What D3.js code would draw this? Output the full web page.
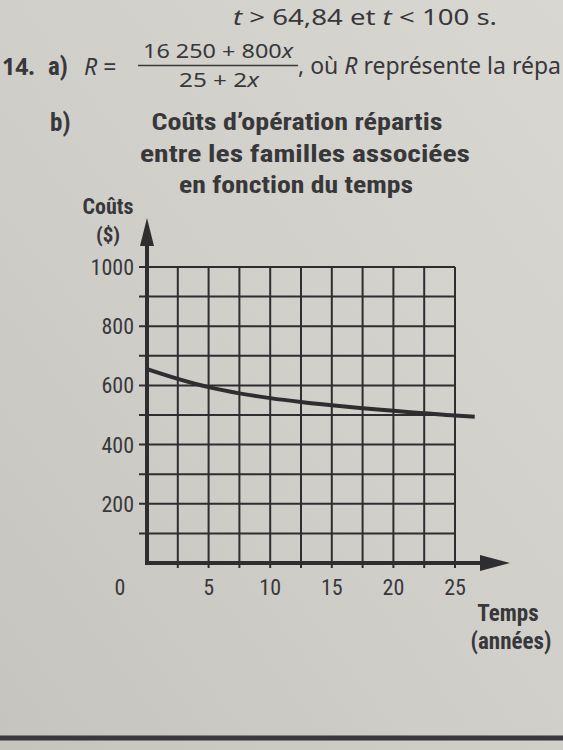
<!DOCTYPE html>
<html>
<head>
<meta charset="utf-8">
<script src="https://cdn.jsdelivr.net/npm/d3@7"></script>
<style>
  body { margin: 0; background: #d0cec8; }
  svg { display: block; }
</style>
</head>
<body>
<svg id="chart" width="563" height="750"></svg>
<script>
// data
var years = [0, 2.5, 5, 7.5, 10, 12.5, 15, 17.5, 20, 22.5, 25, 26.6];
var costs = [655, 622, 594, 573, 557, 544, 533, 523, 514, 506, 498, 494];
var xTickLabels = [0, 5, 10, 15, 20, 25];
var yTickLabels = [200, 400, 600, 800, 1000];
var titleLines = ["Coûts d’opération répartis", "entre les familles associées", "en fonction du temps"];
var titleWidths = [291, 330, 234];
var titleCenters = [297, 305, 296];

var ink = "#2e2e30",
    textInk = "#38383a",
    narrow = "'Roboto Condensed', 'Liberation Sans Narrow', 'Liberation Sans', sans-serif",
    book = "'Noto Sans', 'Open Sans', sans-serif";

var svg = d3.select("#chart");

// paper background
var defs = svg.append("defs");
var grad = defs.append("linearGradient").attr("id", "paper")
    .attr("x1", "100%").attr("y1", "0%").attr("x2", "0%").attr("y2", "100%");
grad.append("stop").attr("offset", "0%").style("stop-color", "#d9d7d2");
grad.append("stop").attr("offset", "55%").style("stop-color", "#d0cec8");
grad.append("stop").attr("offset", "100%").style("stop-color", "#c6c4be");
svg.append("rect").attr("width", 563).attr("height", 750).attr("fill", "url(#paper)");

// text of the page above the chart
svg.append("text").attr("x", 233).attr("y", 25)
    .attr("textLength", 264).attr("lengthAdjust", "spacingAndGlyphs")
    .attr("font-family", book).attr("font-size", 21).attr("fill", textInk)
    .html("<tspan font-style='italic'>t</tspan> &gt; 64,84 et <tspan font-style='italic'>t</tspan> &lt; 100 s.");

svg.append("text").attr("x", 2).attr("y", 75)
    .attr("font-family", book).attr("font-size", 23).attr("font-weight", "bold").attr("fill", textInk)
    .text("14.");
svg.append("text").attr("x", 48).attr("y", 75)
    .attr("font-family", narrow).attr("font-size", 25).attr("font-weight", "bold").attr("fill", textInk)
    .text("a)");
svg.append("text").attr("x", 84).attr("y", 75)
    .attr("font-family", book).attr("font-size", 23).attr("fill", textInk)
    .html("<tspan font-style='italic'>R</tspan> =");
svg.append("text").attr("x", 218).attr("y", 58).attr("text-anchor", "middle")
    .attr("textLength", 150).attr("lengthAdjust", "spacingAndGlyphs")
    .attr("font-family", book).attr("font-size", 20).attr("fill", textInk)
    .html("16 250 + 800<tspan font-style='italic'>x</tspan>");
svg.append("line").attr("x1", 138).attr("x2", 298).attr("y1", 65.5).attr("y2", 65.5)
    .attr("stroke", textInk).attr("stroke-width", 1.6);
svg.append("text").attr("x", 219).attr("y", 87).attr("text-anchor", "middle")
    .attr("textLength", 80).attr("lengthAdjust", "spacingAndGlyphs")
    .attr("font-family", book).attr("font-size", 20).attr("fill", textInk)
    .html("25 + 2<tspan font-style='italic'>x</tspan>");
svg.append("text").attr("x", 298).attr("y", 74)
    .attr("font-family", book).attr("font-size", 23).attr("fill", textInk)
    .html(", où <tspan font-style='italic'>R</tspan> représente la répa");

svg.append("text").attr("x", 50).attr("y", 131)
    .attr("font-family", narrow).attr("font-size", 25).attr("font-weight", "bold").attr("fill", textInk)
    .text("b)");

// chart title
svg.selectAll(".title")
    .data(titleLines)
    .enter()
    .append("text")
    .attr("class", "title")
    .attr("x", function(d, i) { return titleCenters[i]; })
    .attr("y", function(d, i) { return 130 + i * 31.5; })
    .attr("text-anchor", "middle")
    .attr("textLength", function(d, i) { return titleWidths[i]; })
    .attr("lengthAdjust", "spacingAndGlyphs")
    .attr("font-family", narrow).attr("font-size", 23).attr("font-weight", "bold")
    .attr("fill", textInk)
    .text(function(d) { return d; });

// scales
var x = d3.scaleLinear().domain([0, 25]).range([147, 455]);
var y = d3.scaleLinear().domain([0, 1000]).range([563, 267]);

// grid
var g = svg.append("g");
g.selectAll(".hgrid")
    .data(d3.range(100, 1001, 100))
    .enter()
    .append("line")
    .attr("x1", x(0) - 8).attr("x2", x(25))
    .attr("y1", function(d) { return y(d); }).attr("y2", function(d) { return y(d); })
    .attr("stroke", ink).attr("stroke-width", 2);
g.selectAll(".vgrid")
    .data(d3.range(2.5, 25.1, 2.5))
    .enter()
    .append("line")
    .attr("x1", function(d) { return x(d); }).attr("x2", function(d) { return x(d); })
    .attr("y1", y(1000)).attr("y2", y(0) + 5)
    .attr("stroke", ink).attr("stroke-width", 2);

// axes with arrows
g.append("line").attr("x1", x(0)).attr("x2", x(0)).attr("y1", y(0) + 2).attr("y2", 240)
    .attr("stroke", ink).attr("stroke-width", 4);
g.append("path").attr("d", d3.line()([[x(0) - 7, 246], [x(0), 218], [x(0) + 7, 246]]) + "Z")
    .attr("fill", ink);
g.append("line").attr("x1", x(0) - 2).attr("x2", 485).attr("y1", y(0)).attr("y2", y(0))
    .attr("stroke", ink).attr("stroke-width", 4);
g.append("path").attr("d", d3.line()([[480, y(0) - 8], [510, y(0)], [480, y(0) + 8]]) + "Z")
    .attr("fill", ink);

// tick labels
g.selectAll(".ylab")
    .data(yTickLabels)
    .enter()
    .append("text")
    .attr("x", 134)
    .attr("y", function(d) { return y(d) + 8; })
    .attr("text-anchor", "end")
    .attr("font-family", narrow).attr("font-size", 22).attr("fill", textInk)
    .text(function(d) { return d; });
g.selectAll(".xlab")
    .data(xTickLabels)
    .enter()
    .append("text")
    .attr("x", function(d) { return d === 0 ? x(0) - 27 : x(d); })
    .attr("y", 595)
    .attr("text-anchor", "middle")
    .attr("font-family", narrow).attr("font-size", 22).attr("fill", textInk)
    .text(function(d) { return d; });

// axis titles
g.append("text").attr("x", 108).attr("y", 214).attr("text-anchor", "middle")
    .attr("font-family", narrow).attr("font-size", 22).attr("font-weight", "bold").attr("fill", textInk)
    .text("Coûts");
g.append("text").attr("x", 108).attr("y", 242).attr("text-anchor", "middle")
    .attr("font-family", narrow).attr("font-size", 21).attr("font-weight", "bold").attr("fill", textInk)
    .text("($)");
g.append("text").attr("x", 508).attr("y", 621).attr("text-anchor", "middle")
    .attr("font-family", narrow).attr("font-size", 23).attr("font-weight", "bold").attr("fill", textInk)
    .text("Temps");
g.append("text").attr("x", 511).attr("y", 649).attr("text-anchor", "middle")
    .attr("font-family", narrow).attr("font-size", 23).attr("font-weight", "bold").attr("fill", textInk)
    .text("(années)");

// curve
var line = d3.line()
    .x(function(d) { return x(d[0]); })
    .y(function(d) { return y(d[1]); })
    .curve(d3.curveMonotoneX);
g.append("path")
    .datum(d3.zip(years, costs))
    .attr("fill", "none")
    .attr("stroke", ink)
    .attr("stroke-width", 4)
    .attr("stroke-linecap", "butt")
    .attr("d", line);

// bottom page rule
svg.append("line").attr("x1", 0).attr("x2", 563).attr("y1", 738).attr("y2", 738)
    .attr("stroke", "#38383e").attr("stroke-width", 5);
</script>
</body>
</html>
